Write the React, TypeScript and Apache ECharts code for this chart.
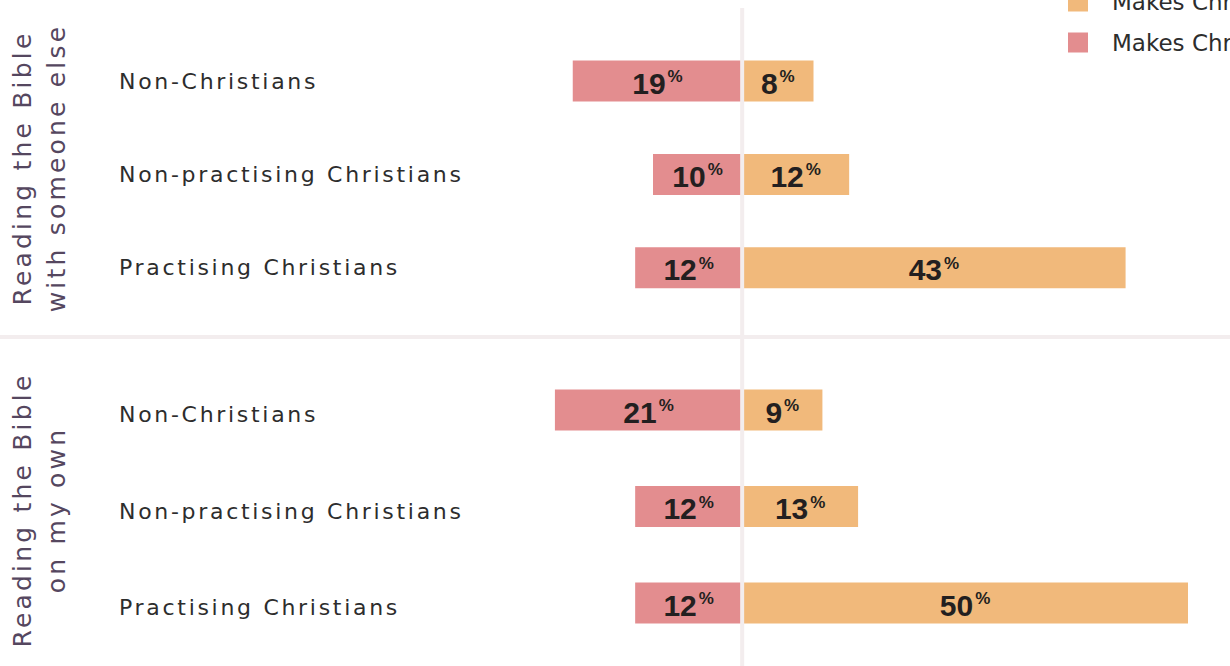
import React, { useEffect, useRef } from "react";
import * as echarts from "echarts";

const categories = ["Non-Christians", "Non-practising Christians", "Practising Christians"];
const groupTitles = ["Reading the Bible\nwith someone else", "Reading the Bible\non my own"];
const seriesNames = ["Makes Christianity more appealing", "Makes Christianity less appealing"];
const moreWithOthers = [8, 12, 43];
const lessWithOthers = [19, 10, 12];
const moreOnOwn = [9, 13, 50];
const lessOnOwn = [21, 12, 12];

const ORANGE = "#f1b97b";
const PINK = "#e38d8f";
const LINE = "#f3edee";

const valueLabel = {
  show: true,
  position: "inside",
  offset: [0, 2],
  formatter: (p: any) => `{n|${Math.abs(p.value)}}{p|%}`,
  rich: {
    n: { fontFamily: "Liberation Sans", fontWeight: "bold", fontSize: 30, color: "#231f20" },
    p: {
      fontFamily: "Liberation Sans",
      fontWeight: "bold",
      fontSize: 17,
      color: "#231f20",
      verticalAlign: "top",
      padding: [0, 0, 0, 2],
    },
  },
};

export default function App() {
  const ref = useRef<HTMLDivElement>(null);
  useEffect(() => {
    if (!ref.current) return;
    const chart = echarts.init(ref.current, null, { renderer: "svg" });
    const grids = [
      { left: 385.5, right: 42, top: 34.3, bottom: 351.5, outerBoundsMode: "none" },
      { left: 385.5, right: 42, top: 361.75, bottom: 14.75, outerBoundsMode: "none" },
    ];
    const yAxis = (gi: number, pad: number) => ({
      type: "category",
      gridIndex: gi,
      data: categories,
      inverse: true,
      axisLine: { show: false },
      axisTick: { show: false },
      splitLine: { show: false },
      axisLabel: {
        interval: 0,
        align: "left",
        margin: 266.5,
        formatter: (v: string) => `{a|${v}}`,
        rich: {
          a: {
            fontFamily: "DejaVu Sans",
            fontSize: 22,
            color: "#2d2d2d",
            padding: [pad, 0, 0, 0],
          },
        },
      },
    });
    const xAxis = (gi: number) => ({
      type: "value",
      gridIndex: gi,
      min: -40,
      max: 50,
      show: false,
    });
    const mk = (name: string, data: number[], gi: number, color: string, neg: boolean) => ({
      type: "bar",
      name,
      xAxisIndex: gi,
      yAxisIndex: gi,
      stack: "s" + gi,
      barWidth: 41,
      data: data.map((v) => (neg ? -v : v)),
      itemStyle: { color },
      label: valueLabel,
      z: 2,
    });
    chart.setOption({
      animation: false,
      legend: {
        orient: "vertical",
        left: 1068,
        top: -10,
        padding: 0,
        itemWidth: 20,
        itemHeight: 20,
        itemGap: 18,
        icon: "rect",
        data: seriesNames,
        textStyle: {
          fontFamily: "DejaVu Sans",
          fontSize: 23,
          color: "#2d2d2d",
          padding: [0, 0, 0, 19],
        },
      },
      grid: grids,
      xAxis: [xAxis(0), xAxis(1)],
      yAxis: [yAxis(0, 0), yAxis(1, 9)],
      series: [
        mk(seriesNames[0], moreWithOthers, 0, ORANGE, false),
        mk(seriesNames[1], lessWithOthers, 0, PINK, true),
        mk(seriesNames[0], moreOnOwn, 1, ORANGE, false),
        mk(seriesNames[1], lessOnOwn, 1, PINK, true),
      ],
    });
    const zeroX = chart.convertToPixel({ xAxisIndex: 0 }, 0) as number;
    const titleStyle = {
      fontFamily: "DejaVu Sans",
      fontSize: 25,
      fill: "#55475f",
      align: "center",
      verticalAlign: "middle",
      lineHeight: 34,
    };
    chart.setOption({
      graphic: [
        {
          type: "rect",
          z: 100,
          shape: { x: zeroX - 2, y: 8, width: 4, height: 666 },
          style: { fill: LINE },
        },
        {
          type: "rect",
          z: 100,
          shape: { x: 0, y: 335, width: 1230, height: 4 },
          style: { fill: LINE },
        },
        {
          type: "text",
          x: 39,
          y: 168,
          rotation: Math.PI / 2,
          style: { ...titleStyle, text: groupTitles[0] },
        },
        {
          type: "text",
          x: 39,
          y: 510,
          rotation: Math.PI / 2,
          style: { ...titleStyle, text: groupTitles[1] },
        },
      ],
    });
    return () => chart.dispose();
  }, []);
  return (
    <>
      <style>{`
        .bchart text[style*="22px"] { letter-spacing: 2.7px; }
        .bchart text[style*="25px"] { letter-spacing: 3.2px; }
      `}</style>
      <div
        ref={ref}
        className="bchart"
        style={{ position: "fixed", left: 0, top: 0, width: 1230, height: 666, background: "#fff" }}
      />
    </>
  );
}
